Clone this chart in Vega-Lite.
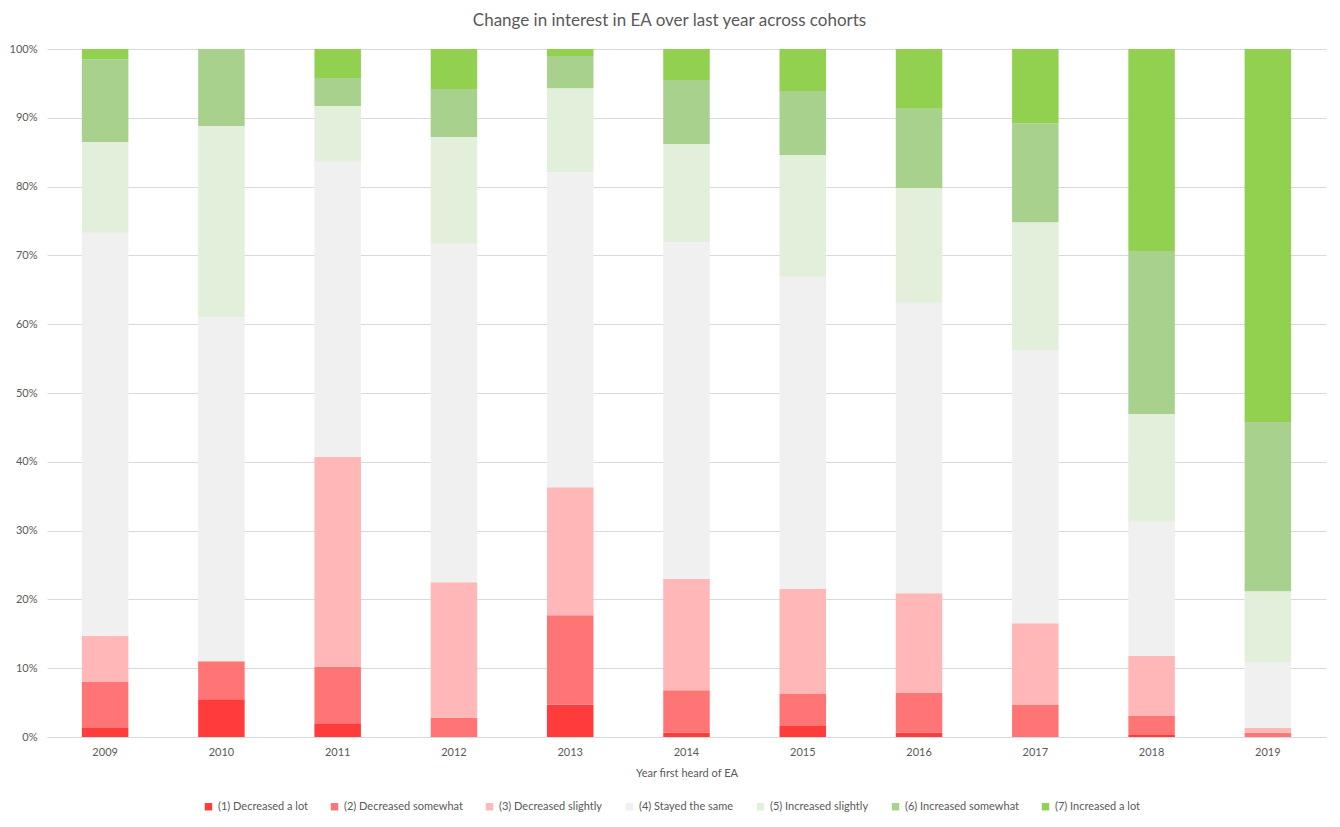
{
  "$schema": "https://vega.github.io/schema/vega-lite/v6.json",
  "width": 1279,
  "height": 688,
  "autosize": {"type": "none"},
  "padding": {"left": 47, "top": 49, "right": 14, "bottom": 90},
  "background": "white",
  "title": {
    "text": "Change in interest in EA over last year across cohorts",
    "font": "Lato",
    "fontSize": 17,
    "fontWeight": "normal",
    "color": "#595959",
    "offset": 13,
    "dx": -17
  },
  "config": {
    "view": {"stroke": null},
    "font": "Lato",
    "axis": {"labelFont": "Lato", "titleFont": "Lato", "labelColor": "#595959", "titleColor": "#595959", "labelFontSize": 11, "titleFontSize": 11, "titleFontWeight": "normal"},
    "legend": {"labelFont": "Lato", "labelColor": "#595959", "labelFontSize": 11}
  },
  "data": {
    "values": [
      {"year": "2009", "category": "(1) Decreased a lot", "value": 1.3},
      {"year": "2009", "category": "(2) Decreased somewhat", "value": 6.7},
      {"year": "2009", "category": "(3) Decreased slightly", "value": 6.7},
      {"year": "2009", "category": "(4) Stayed the same", "value": 58.6},
      {"year": "2009", "category": "(5) Increased slightly", "value": 13.2},
      {"year": "2009", "category": "(6) Increased somewhat", "value": 12.0},
      {"year": "2009", "category": "(7) Increased a lot", "value": 1.5},
      {"year": "2010", "category": "(1) Decreased a lot", "value": 5.5},
      {"year": "2010", "category": "(2) Decreased somewhat", "value": 5.5},
      {"year": "2010", "category": "(3) Decreased slightly", "value": 0},
      {"year": "2010", "category": "(4) Stayed the same", "value": 50.0},
      {"year": "2010", "category": "(5) Increased slightly", "value": 27.8},
      {"year": "2010", "category": "(6) Increased somewhat", "value": 11.2},
      {"year": "2010", "category": "(7) Increased a lot", "value": 0},
      {"year": "2011", "category": "(1) Decreased a lot", "value": 2.0},
      {"year": "2011", "category": "(2) Decreased somewhat", "value": 8.2},
      {"year": "2011", "category": "(3) Decreased slightly", "value": 30.5},
      {"year": "2011", "category": "(4) Stayed the same", "value": 42.9},
      {"year": "2011", "category": "(5) Increased slightly", "value": 8.1},
      {"year": "2011", "category": "(6) Increased somewhat", "value": 4.1},
      {"year": "2011", "category": "(7) Increased a lot", "value": 4.2},
      {"year": "2012", "category": "(1) Decreased a lot", "value": 0},
      {"year": "2012", "category": "(2) Decreased somewhat", "value": 2.8},
      {"year": "2012", "category": "(3) Decreased slightly", "value": 19.7},
      {"year": "2012", "category": "(4) Stayed the same", "value": 49.2},
      {"year": "2012", "category": "(5) Increased slightly", "value": 15.5},
      {"year": "2012", "category": "(6) Increased somewhat", "value": 7.0},
      {"year": "2012", "category": "(7) Increased a lot", "value": 5.8},
      {"year": "2013", "category": "(1) Decreased a lot", "value": 4.7},
      {"year": "2013", "category": "(2) Decreased somewhat", "value": 13.0},
      {"year": "2013", "category": "(3) Decreased slightly", "value": 18.6},
      {"year": "2013", "category": "(4) Stayed the same", "value": 45.8},
      {"year": "2013", "category": "(5) Increased slightly", "value": 12.2},
      {"year": "2013", "category": "(6) Increased somewhat", "value": 4.7},
      {"year": "2013", "category": "(7) Increased a lot", "value": 1.0},
      {"year": "2014", "category": "(1) Decreased a lot", "value": 0.6},
      {"year": "2014", "category": "(2) Decreased somewhat", "value": 6.2},
      {"year": "2014", "category": "(3) Decreased slightly", "value": 16.2},
      {"year": "2014", "category": "(4) Stayed the same", "value": 48.9},
      {"year": "2014", "category": "(5) Increased slightly", "value": 14.3},
      {"year": "2014", "category": "(6) Increased somewhat", "value": 9.3},
      {"year": "2014", "category": "(7) Increased a lot", "value": 4.5},
      {"year": "2015", "category": "(1) Decreased a lot", "value": 1.6},
      {"year": "2015", "category": "(2) Decreased somewhat", "value": 4.65},
      {"year": "2015", "category": "(3) Decreased slightly", "value": 15.25},
      {"year": "2015", "category": "(4) Stayed the same", "value": 45.4},
      {"year": "2015", "category": "(5) Increased slightly", "value": 17.7},
      {"year": "2015", "category": "(6) Increased somewhat", "value": 9.3},
      {"year": "2015", "category": "(7) Increased a lot", "value": 6.1},
      {"year": "2016", "category": "(1) Decreased a lot", "value": 0.6},
      {"year": "2016", "category": "(2) Decreased somewhat", "value": 5.8},
      {"year": "2016", "category": "(3) Decreased slightly", "value": 14.5},
      {"year": "2016", "category": "(4) Stayed the same", "value": 42.2},
      {"year": "2016", "category": "(5) Increased slightly", "value": 16.7},
      {"year": "2016", "category": "(6) Increased somewhat", "value": 11.5},
      {"year": "2016", "category": "(7) Increased a lot", "value": 8.7},
      {"year": "2017", "category": "(1) Decreased a lot", "value": 0},
      {"year": "2017", "category": "(2) Decreased somewhat", "value": 4.65},
      {"year": "2017", "category": "(3) Decreased slightly", "value": 11.9},
      {"year": "2017", "category": "(4) Stayed the same", "value": 39.7},
      {"year": "2017", "category": "(5) Increased slightly", "value": 18.6},
      {"year": "2017", "category": "(6) Increased somewhat", "value": 14.4},
      {"year": "2017", "category": "(7) Increased a lot", "value": 10.8},
      {"year": "2018", "category": "(1) Decreased a lot", "value": 0.3},
      {"year": "2018", "category": "(2) Decreased somewhat", "value": 2.75},
      {"year": "2018", "category": "(3) Decreased slightly", "value": 8.75},
      {"year": "2018", "category": "(4) Stayed the same", "value": 19.5},
      {"year": "2018", "category": "(5) Increased slightly", "value": 15.7},
      {"year": "2018", "category": "(6) Increased somewhat", "value": 23.7},
      {"year": "2018", "category": "(7) Increased a lot", "value": 29.4},
      {"year": "2019", "category": "(1) Decreased a lot", "value": 0},
      {"year": "2019", "category": "(2) Decreased somewhat", "value": 0.6},
      {"year": "2019", "category": "(3) Decreased slightly", "value": 0.7},
      {"year": "2019", "category": "(4) Stayed the same", "value": 9.6},
      {"year": "2019", "category": "(5) Increased slightly", "value": 10.3},
      {"year": "2019", "category": "(6) Increased somewhat", "value": 24.6},
      {"year": "2019", "category": "(7) Increased a lot", "value": 54.2}
    ]
  },
  "mark": {"type": "bar"},
  "encoding": {
    "x": {
      "field": "year",
      "type": "nominal",
      "title": "Year first heard of EA",
      "scale": {"paddingInner": 0.6, "paddingOuter": 0.3},
      "axis": {"labelAngle": 0, "ticks": false, "domainColor": "#D9D9D9", "labelPadding": 9, "titlePadding": 10}
    },
    "y": {
      "field": "value",
      "type": "quantitative",
      "stack": "normalize",
      "title": null,
      "scale": {"domain": [0, 1], "nice": false},
      "axis": {"format": ".0%", "values": [0, 0.1, 0.2, 0.3, 0.4, 0.5, 0.6, 0.7, 0.8, 0.9, 1], "ticks": false, "domain": false, "gridColor": "#D9D9D9", "labelPadding": 10}
    },
    "color": {
      "field": "category",
      "type": "nominal",
      "scale": {
        "domain": ["(1) Decreased a lot", "(2) Decreased somewhat", "(3) Decreased slightly", "(4) Stayed the same", "(5) Increased slightly", "(6) Increased somewhat", "(7) Increased a lot"],
        "range": ["#FF3B3B", "#FF7575", "#FFB7B7", "#F0F0F0", "#E2EFDA", "#A9D18E", "#92D050"]
      },
      "legend": {
        "title": null,
        "orient": "none",
        "legendX": 156,
        "legendY": 752,
        "direction": "horizontal",
        "symbolType": "square",
        "symbolSize": 55,
        "symbolStrokeWidth": 0,
        "columnPadding": 21,
        "labelOffset": 4
      }
    },
    "order": {"field": "category", "sort": "ascending"}
  }
}
